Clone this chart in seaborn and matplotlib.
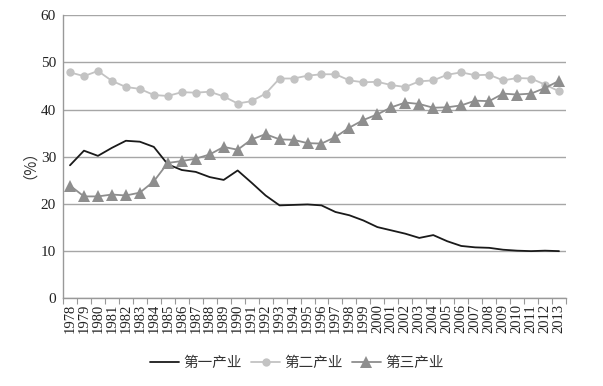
import matplotlib
matplotlib.use("Agg")
import matplotlib.pyplot as plt
import seaborn as sns
import pandas as pd
import numpy as np
from matplotlib.ticker import FixedLocator

years = list(range(1978, 2014))
primary = [28.2, 31.3, 30.2, 31.9, 33.4, 33.2, 32.1, 28.4, 27.2, 26.8, 25.7, 25.1,
           27.1, 24.5, 21.8, 19.7, 19.8, 19.9, 19.7, 18.3, 17.6, 16.5, 15.1, 14.4,
           13.7, 12.8, 13.4, 12.1, 11.1, 10.8, 10.7, 10.3, 10.1, 10.0, 10.1, 10.0]
secondary = [47.9, 47.1, 48.2, 46.1, 44.8, 44.4, 43.1, 42.9, 43.7, 43.6, 43.8, 42.8,
             41.3, 41.8, 43.4, 46.6, 46.6, 47.2, 47.5, 47.5, 46.2, 45.8, 45.9, 45.2,
             44.8, 46.0, 46.2, 47.4, 47.9, 47.3, 47.4, 46.2, 46.7, 46.6, 45.3, 43.9]
tertiary = [23.9, 21.6, 21.6, 22.0, 21.8, 22.4, 24.8, 28.7, 29.1, 29.6, 30.5, 32.1,
            31.5, 33.7, 34.8, 33.7, 33.6, 32.9, 32.8, 34.2, 36.2, 37.8, 39.0, 40.5,
            41.5, 41.2, 40.4, 40.5, 40.9, 41.9, 41.8, 43.4, 43.2, 43.4, 44.6, 46.1]
series_names = ["第一产业", "第二产业", "第三产业"]
y_ticks = [0, 10, 20, 30, 40, 50, 60]
y_label = "（%）"

df = pd.DataFrame({"year": years, series_names[0]: primary,
                   series_names[1]: secondary, series_names[2]: tertiary})

sns.set_theme(style="white")
plt.rcParams['font.family'] = ['Liberation Serif', 'Noto Sans CJK SC', 'DejaVu Sans']

fig = plt.figure(figsize=(6.03, 3.86), dpi=100)
ax = fig.add_axes([63/603, 1-298.3/386, (566-63)/603, (298.3-15.3)/386])

sns.lineplot(data=df, x="year", y=series_names[0], ax=ax, color="#1a1a1a",
             linewidth=1.3, label=series_names[0], zorder=3)
sns.lineplot(data=df, x="year", y=series_names[1], ax=ax, color="#c3c3c3",
             linewidth=1.3, marker="o", markersize=6, markeredgewidth=0,
             label=series_names[1], zorder=2)
sns.lineplot(data=df, x="year", y=series_names[2], ax=ax, color="#8e8e8e",
             linewidth=1.3, marker="^", markersize=8, markeredgewidth=0,
             label=series_names[2], zorder=4)

ax.set_xlim(years[0]-0.5, years[-1]+0.5)
ax.set_ylim(0, 60)
ax.set_yticks(y_ticks)
ax.set_yticklabels([str(v) for v in y_ticks], fontsize=11, family='Liberation Serif')
ax.set_xticks(years)
ax.set_xticklabels([str(y) for y in years], rotation=90, fontsize=10.5,
                   family='Liberation Serif')
ax.xaxis.set_minor_locator(FixedLocator(np.arange(years[0]-0.5, years[-1]+1, 1.0)))
ax.tick_params(axis='x', which='major', length=0, pad=4, colors="#222222")
ax.tick_params(axis='x', which='minor', length=4, width=0.8, color="#999999",
               direction='out', bottom=True)
ax.tick_params(axis='y', length=0, pad=5, colors="#222222")
ax.set_xlabel("")
ax.set_ylabel(y_label, fontsize=11, family=['Noto Sans CJK SC'], color="#333333",
              labelpad=8)

ax.grid(axis='y', color="#a6a6a6", linewidth=1.0)
ax.grid(axis='x', visible=False)
for s in ["top", "right"]:
    ax.spines[s].set_visible(False)
for s in ["left", "bottom"]:
    ax.spines[s].set_color("#999999")
    ax.spines[s].set_linewidth(1.0)

ax.get_legend().remove()
handles, labels = ax.get_legend_handles_labels()
fig.legend(handles, labels, loc="center", bbox_to_anchor=(297/603, 1-363/386),
           ncol=3, frameon=False, handlelength=2.0, handletextpad=0.3,
           columnspacing=0.6, prop={'family': 'Noto Sans CJK SC', 'size': 10.5},
           labelcolor="#333333")

fig.savefig("out.png", dpi=100)
